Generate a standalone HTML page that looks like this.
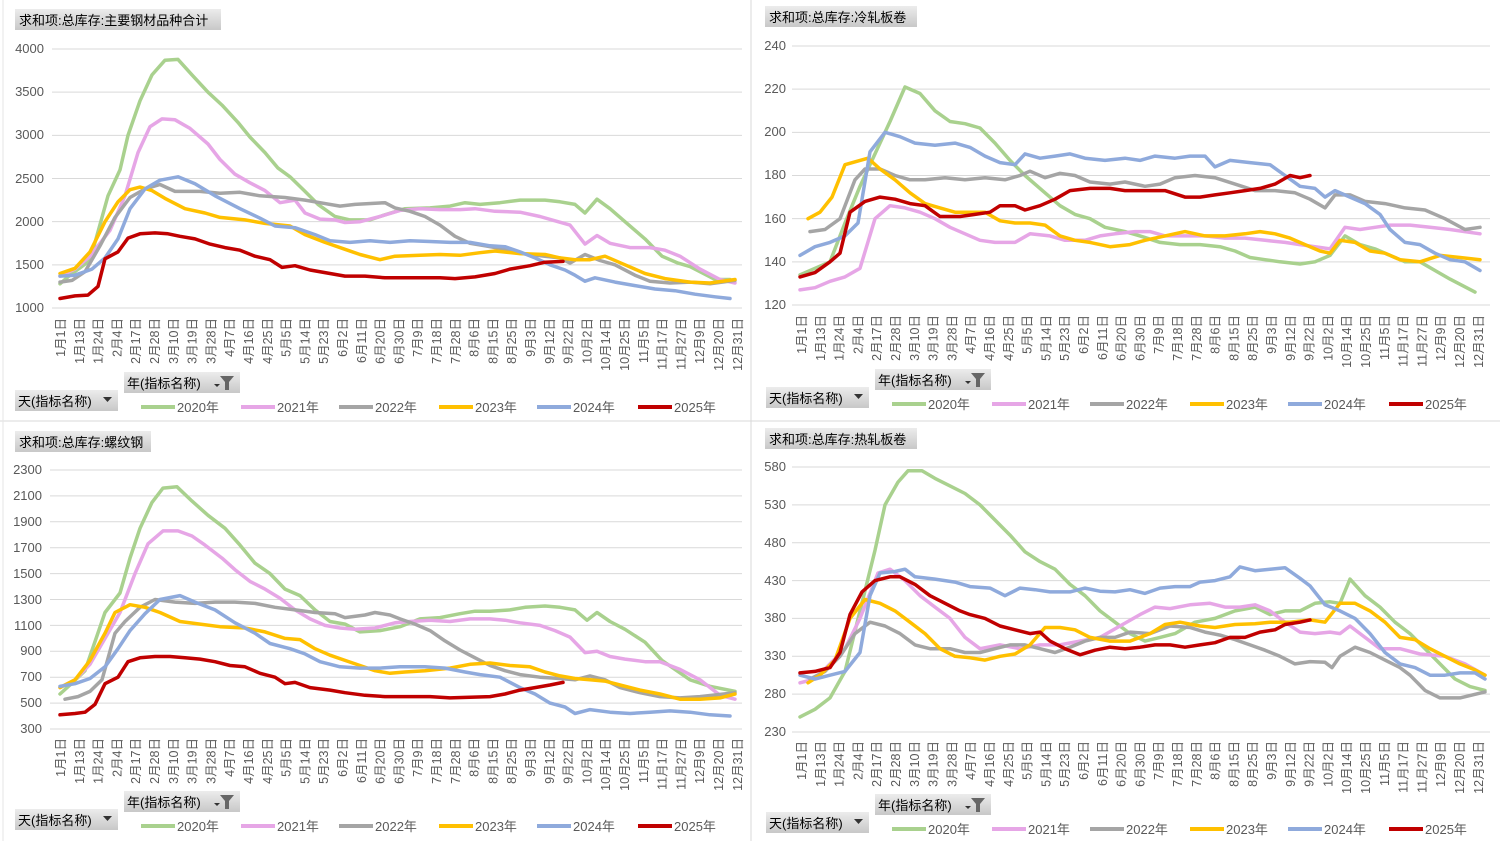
<!DOCTYPE html>
<html><head><meta charset="utf-8"><style>
html,body{margin:0;padding:0;background:#fff;width:1500px;height:841px;overflow:hidden}
svg{display:block;font-family:"Liberation Sans","Noto Sans CJK SC",sans-serif}
.yl{font-size:13px;fill:#595959;text-anchor:end}
.xl text{font-size:12.5px;fill:#595959;text-anchor:end}
.hd{font-size:13px;fill:#000}
.lg{font-size:13px;fill:#595959}
.ct{font-size:13px;fill:#000}
</style></head><body>
<svg id="s" width="1500" height="841" viewBox="0 0 1500 841">
<defs><linearGradient id="gb" x1="0" y1="0" x2="0" y2="1"><stop offset="0" stop-color="#ececec"/><stop offset="1" stop-color="#c8c8c8"/></linearGradient></defs>
<line x1="751" y1="0" x2="751" y2="841" stroke="#d9d9d9"/>
<line x1="0" y1="421" x2="1500" y2="421" stroke="#d9d9d9"/>
<line x1="3" y1="0" x2="3" y2="841" stroke="#e6e6e6"/>
<g id="grid" stroke="#d9d9d9" stroke-width="1"></g>
<g id="lines" fill="none" stroke-width="3.5" stroke-linejoin="round" stroke-linecap="round"></g>

<!-- headers -->
<rect x="15" y="9" width="206" height="21" fill="url(#gb)"/><text class="hd" x="19" y="25">求和项:总库存:主要钢材品种合计</text>
<rect x="765" y="6" width="152" height="21" fill="url(#gb)"/><text class="hd" x="769" y="22">求和项:总库存:冷轧板卷</text>
<rect x="15" y="431" width="136" height="21" fill="url(#gb)"/><text class="hd" x="19" y="447">求和项:总库存:螺纹钢</text>
<rect x="765" y="428" width="152" height="21" fill="url(#gb)"/><text class="hd" x="769" y="444">求和项:总库存:热轧板卷</text>

<!-- y labels -->
<g class="yl">
<text x="44" y="53">4000</text><text x="44" y="96">3500</text><text x="44" y="139">3000</text><text x="44" y="183">2500</text><text x="44" y="226">2000</text><text x="44" y="269">1500</text><text x="44" y="312">1000</text>
<text x="786" y="50">240</text><text x="786" y="93">220</text><text x="786" y="136">200</text><text x="786" y="179">180</text><text x="786" y="223">160</text><text x="786" y="266">140</text><text x="786" y="309">120</text>
<text x="42" y="474">2300</text><text x="42" y="500">2100</text><text x="42" y="526">1900</text><text x="42" y="552">1700</text><text x="42" y="578">1500</text><text x="42" y="604">1300</text><text x="42" y="630">1100</text><text x="42" y="655">900</text><text x="42" y="681">700</text><text x="42" y="707">500</text><text x="42" y="733">300</text>
<text x="786" y="471">580</text><text x="786" y="509">530</text><text x="786" y="547">480</text><text x="786" y="585">430</text><text x="786" y="622">380</text><text x="786" y="660">330</text><text x="786" y="698">280</text><text x="786" y="736">230</text>
</g>

<!-- x labels -->
<g class="xl" transform="translate(0,318)">
<text transform="translate(65,0) rotate(-90)">1月1日</text><text transform="translate(83.8,0) rotate(-90)">1月13日</text><text transform="translate(102.6,0) rotate(-90)">1月24日</text><text transform="translate(121.4,0) rotate(-90)">2月4日</text><text transform="translate(140.2,0) rotate(-90)">2月17日</text><text transform="translate(159,0) rotate(-90)">2月28日</text><text transform="translate(177.8,0) rotate(-90)">3月10日</text><text transform="translate(196.6,0) rotate(-90)">3月19日</text><text transform="translate(215.4,0) rotate(-90)">3月28日</text><text transform="translate(234.2,0) rotate(-90)">4月7日</text><text transform="translate(253,0) rotate(-90)">4月16日</text><text transform="translate(271.8,0) rotate(-90)">4月25日</text><text transform="translate(290.6,0) rotate(-90)">5月5日</text><text transform="translate(309.4,0) rotate(-90)">5月14日</text><text transform="translate(328.2,0) rotate(-90)">5月23日</text><text transform="translate(347,0) rotate(-90)">6月2日</text><text transform="translate(365.8,0) rotate(-90)">6月11日</text><text transform="translate(384.6,0) rotate(-90)">6月20日</text><text transform="translate(403.4,0) rotate(-90)">6月30日</text><text transform="translate(422.2,0) rotate(-90)">7月9日</text><text transform="translate(441,0) rotate(-90)">7月18日</text><text transform="translate(459.8,0) rotate(-90)">7月28日</text><text transform="translate(478.6,0) rotate(-90)">8月6日</text><text transform="translate(497.4,0) rotate(-90)">8月15日</text><text transform="translate(516.2,0) rotate(-90)">8月25日</text><text transform="translate(535,0) rotate(-90)">9月3日</text><text transform="translate(553.8,0) rotate(-90)">9月12日</text><text transform="translate(572.6,0) rotate(-90)">9月22日</text><text transform="translate(591.4,0) rotate(-90)">10月2日</text><text transform="translate(610.2,0) rotate(-90)">10月14日</text><text transform="translate(629,0) rotate(-90)">10月25日</text><text transform="translate(647.8,0) rotate(-90)">11月5日</text><text transform="translate(666.6,0) rotate(-90)">11月17日</text><text transform="translate(685.4,0) rotate(-90)">11月27日</text><text transform="translate(704.2,0) rotate(-90)">12月9日</text><text transform="translate(723,0) rotate(-90)">12月20日</text><text transform="translate(741.8,0) rotate(-90)">12月31日</text>
</g>
<g class="xl" transform="translate(741,315)">
<text transform="translate(65,0) rotate(-90)">1月1日</text><text transform="translate(83.8,0) rotate(-90)">1月13日</text><text transform="translate(102.6,0) rotate(-90)">1月24日</text><text transform="translate(121.4,0) rotate(-90)">2月4日</text><text transform="translate(140.2,0) rotate(-90)">2月17日</text><text transform="translate(159,0) rotate(-90)">2月28日</text><text transform="translate(177.8,0) rotate(-90)">3月10日</text><text transform="translate(196.6,0) rotate(-90)">3月19日</text><text transform="translate(215.4,0) rotate(-90)">3月28日</text><text transform="translate(234.2,0) rotate(-90)">4月7日</text><text transform="translate(253,0) rotate(-90)">4月16日</text><text transform="translate(271.8,0) rotate(-90)">4月25日</text><text transform="translate(290.6,0) rotate(-90)">5月5日</text><text transform="translate(309.4,0) rotate(-90)">5月14日</text><text transform="translate(328.2,0) rotate(-90)">5月23日</text><text transform="translate(347,0) rotate(-90)">6月2日</text><text transform="translate(365.8,0) rotate(-90)">6月11日</text><text transform="translate(384.6,0) rotate(-90)">6月20日</text><text transform="translate(403.4,0) rotate(-90)">6月30日</text><text transform="translate(422.2,0) rotate(-90)">7月9日</text><text transform="translate(441,0) rotate(-90)">7月18日</text><text transform="translate(459.8,0) rotate(-90)">7月28日</text><text transform="translate(478.6,0) rotate(-90)">8月6日</text><text transform="translate(497.4,0) rotate(-90)">8月15日</text><text transform="translate(516.2,0) rotate(-90)">8月25日</text><text transform="translate(535,0) rotate(-90)">9月3日</text><text transform="translate(553.8,0) rotate(-90)">9月12日</text><text transform="translate(572.6,0) rotate(-90)">9月22日</text><text transform="translate(591.4,0) rotate(-90)">10月2日</text><text transform="translate(610.2,0) rotate(-90)">10月14日</text><text transform="translate(629,0) rotate(-90)">10月25日</text><text transform="translate(647.8,0) rotate(-90)">11月5日</text><text transform="translate(666.6,0) rotate(-90)">11月17日</text><text transform="translate(685.4,0) rotate(-90)">11月27日</text><text transform="translate(704.2,0) rotate(-90)">12月9日</text><text transform="translate(723,0) rotate(-90)">12月20日</text><text transform="translate(741.8,0) rotate(-90)">12月31日</text>
</g>
<g class="xl" transform="translate(0,738)">
<text transform="translate(65,0) rotate(-90)">1月1日</text><text transform="translate(83.8,0) rotate(-90)">1月13日</text><text transform="translate(102.6,0) rotate(-90)">1月24日</text><text transform="translate(121.4,0) rotate(-90)">2月4日</text><text transform="translate(140.2,0) rotate(-90)">2月17日</text><text transform="translate(159,0) rotate(-90)">2月28日</text><text transform="translate(177.8,0) rotate(-90)">3月10日</text><text transform="translate(196.6,0) rotate(-90)">3月19日</text><text transform="translate(215.4,0) rotate(-90)">3月28日</text><text transform="translate(234.2,0) rotate(-90)">4月7日</text><text transform="translate(253,0) rotate(-90)">4月16日</text><text transform="translate(271.8,0) rotate(-90)">4月25日</text><text transform="translate(290.6,0) rotate(-90)">5月5日</text><text transform="translate(309.4,0) rotate(-90)">5月14日</text><text transform="translate(328.2,0) rotate(-90)">5月23日</text><text transform="translate(347,0) rotate(-90)">6月2日</text><text transform="translate(365.8,0) rotate(-90)">6月11日</text><text transform="translate(384.6,0) rotate(-90)">6月20日</text><text transform="translate(403.4,0) rotate(-90)">6月30日</text><text transform="translate(422.2,0) rotate(-90)">7月9日</text><text transform="translate(441,0) rotate(-90)">7月18日</text><text transform="translate(459.8,0) rotate(-90)">7月28日</text><text transform="translate(478.6,0) rotate(-90)">8月6日</text><text transform="translate(497.4,0) rotate(-90)">8月15日</text><text transform="translate(516.2,0) rotate(-90)">8月25日</text><text transform="translate(535,0) rotate(-90)">9月3日</text><text transform="translate(553.8,0) rotate(-90)">9月12日</text><text transform="translate(572.6,0) rotate(-90)">9月22日</text><text transform="translate(591.4,0) rotate(-90)">10月2日</text><text transform="translate(610.2,0) rotate(-90)">10月14日</text><text transform="translate(629,0) rotate(-90)">10月25日</text><text transform="translate(647.8,0) rotate(-90)">11月5日</text><text transform="translate(666.6,0) rotate(-90)">11月17日</text><text transform="translate(685.4,0) rotate(-90)">11月27日</text><text transform="translate(704.2,0) rotate(-90)">12月9日</text><text transform="translate(723,0) rotate(-90)">12月20日</text><text transform="translate(741.8,0) rotate(-90)">12月31日</text>
</g>
<g class="xl" transform="translate(741,741)">
<text transform="translate(65,0) rotate(-90)">1月1日</text><text transform="translate(83.8,0) rotate(-90)">1月13日</text><text transform="translate(102.6,0) rotate(-90)">1月24日</text><text transform="translate(121.4,0) rotate(-90)">2月4日</text><text transform="translate(140.2,0) rotate(-90)">2月17日</text><text transform="translate(159,0) rotate(-90)">2月28日</text><text transform="translate(177.8,0) rotate(-90)">3月10日</text><text transform="translate(196.6,0) rotate(-90)">3月19日</text><text transform="translate(215.4,0) rotate(-90)">3月28日</text><text transform="translate(234.2,0) rotate(-90)">4月7日</text><text transform="translate(253,0) rotate(-90)">4月16日</text><text transform="translate(271.8,0) rotate(-90)">4月25日</text><text transform="translate(290.6,0) rotate(-90)">5月5日</text><text transform="translate(309.4,0) rotate(-90)">5月14日</text><text transform="translate(328.2,0) rotate(-90)">5月23日</text><text transform="translate(347,0) rotate(-90)">6月2日</text><text transform="translate(365.8,0) rotate(-90)">6月11日</text><text transform="translate(384.6,0) rotate(-90)">6月20日</text><text transform="translate(403.4,0) rotate(-90)">6月30日</text><text transform="translate(422.2,0) rotate(-90)">7月9日</text><text transform="translate(441,0) rotate(-90)">7月18日</text><text transform="translate(459.8,0) rotate(-90)">7月28日</text><text transform="translate(478.6,0) rotate(-90)">8月6日</text><text transform="translate(497.4,0) rotate(-90)">8月15日</text><text transform="translate(516.2,0) rotate(-90)">8月25日</text><text transform="translate(535,0) rotate(-90)">9月3日</text><text transform="translate(553.8,0) rotate(-90)">9月12日</text><text transform="translate(572.6,0) rotate(-90)">9月22日</text><text transform="translate(591.4,0) rotate(-90)">10月2日</text><text transform="translate(610.2,0) rotate(-90)">10月14日</text><text transform="translate(629,0) rotate(-90)">10月25日</text><text transform="translate(647.8,0) rotate(-90)">11月5日</text><text transform="translate(666.6,0) rotate(-90)">11月17日</text><text transform="translate(685.4,0) rotate(-90)">11月27日</text><text transform="translate(704.2,0) rotate(-90)">12月9日</text><text transform="translate(723,0) rotate(-90)">12月20日</text><text transform="translate(741.8,0) rotate(-90)">12月31日</text>
</g>

<!-- controls + legends -->
<g transform="translate(0,0)">
<rect x="124" y="372" width="116" height="21" fill="url(#gb)"/><text class="ct" x="127" y="388">年(指标名称)</text><path d="M214 384h6l-3 3z" fill="#333"/><path d="M220 376h14l-5 6v8h-4v-8z" fill="#666"/>
<rect x="15" y="390" width="103" height="21" fill="url(#gb)"/><text class="ct" x="18" y="406">天(指标名称)</text><path d="M103 397h9l-4.5 5z" fill="#333"/>
<g class="lg"><line x1="141" y1="407" x2="175" y2="407" stroke="#a9d18e" stroke-width="4"/><text x="177" y="412">2020年</text>
<line x1="241" y1="407" x2="275" y2="407" stroke="#e6a6e6" stroke-width="4"/><text x="277" y="412">2021年</text>
<line x1="339" y1="407" x2="373" y2="407" stroke="#a5a5a5" stroke-width="4"/><text x="375" y="412">2022年</text>
<line x1="439" y1="407" x2="473" y2="407" stroke="#ffc000" stroke-width="4"/><text x="475" y="412">2023年</text>
<line x1="537" y1="407" x2="571" y2="407" stroke="#8faadc" stroke-width="4"/><text x="573" y="412">2024年</text>
<line x1="638" y1="407" x2="672" y2="407" stroke="#c00000" stroke-width="4"/><text x="674" y="412">2025年</text></g>
</g>
<g transform="translate(751,-3)">
<rect x="124" y="372" width="116" height="21" fill="url(#gb)"/><text class="ct" x="127" y="388">年(指标名称)</text><path d="M214 384h6l-3 3z" fill="#333"/><path d="M220 376h14l-5 6v8h-4v-8z" fill="#666"/>
<rect x="15" y="390" width="103" height="21" fill="url(#gb)"/><text class="ct" x="18" y="406">天(指标名称)</text><path d="M103 397h9l-4.5 5z" fill="#333"/>
<g class="lg"><line x1="141" y1="407" x2="175" y2="407" stroke="#a9d18e" stroke-width="4"/><text x="177" y="412">2020年</text>
<line x1="241" y1="407" x2="275" y2="407" stroke="#e6a6e6" stroke-width="4"/><text x="277" y="412">2021年</text>
<line x1="339" y1="407" x2="373" y2="407" stroke="#a5a5a5" stroke-width="4"/><text x="375" y="412">2022年</text>
<line x1="439" y1="407" x2="473" y2="407" stroke="#ffc000" stroke-width="4"/><text x="475" y="412">2023年</text>
<line x1="537" y1="407" x2="571" y2="407" stroke="#8faadc" stroke-width="4"/><text x="573" y="412">2024年</text>
<line x1="638" y1="407" x2="672" y2="407" stroke="#c00000" stroke-width="4"/><text x="674" y="412">2025年</text></g>
</g>
<g transform="translate(0,419)">
<rect x="124" y="372" width="116" height="21" fill="url(#gb)"/><text class="ct" x="127" y="388">年(指标名称)</text><path d="M214 384h6l-3 3z" fill="#333"/><path d="M220 376h14l-5 6v8h-4v-8z" fill="#666"/>
<rect x="15" y="390" width="103" height="21" fill="url(#gb)"/><text class="ct" x="18" y="406">天(指标名称)</text><path d="M103 397h9l-4.5 5z" fill="#333"/>
<g class="lg"><line x1="141" y1="407" x2="175" y2="407" stroke="#a9d18e" stroke-width="4"/><text x="177" y="412">2020年</text>
<line x1="241" y1="407" x2="275" y2="407" stroke="#e6a6e6" stroke-width="4"/><text x="277" y="412">2021年</text>
<line x1="339" y1="407" x2="373" y2="407" stroke="#a5a5a5" stroke-width="4"/><text x="375" y="412">2022年</text>
<line x1="439" y1="407" x2="473" y2="407" stroke="#ffc000" stroke-width="4"/><text x="475" y="412">2023年</text>
<line x1="537" y1="407" x2="571" y2="407" stroke="#8faadc" stroke-width="4"/><text x="573" y="412">2024年</text>
<line x1="638" y1="407" x2="672" y2="407" stroke="#c00000" stroke-width="4"/><text x="674" y="412">2025年</text></g>
</g>
<g transform="translate(751,422)">
<rect x="124" y="372" width="116" height="21" fill="url(#gb)"/><text class="ct" x="127" y="388">年(指标名称)</text><path d="M214 384h6l-3 3z" fill="#333"/><path d="M220 376h14l-5 6v8h-4v-8z" fill="#666"/>
<rect x="15" y="390" width="103" height="21" fill="url(#gb)"/><text class="ct" x="18" y="406">天(指标名称)</text><path d="M103 397h9l-4.5 5z" fill="#333"/>
<g class="lg"><line x1="141" y1="407" x2="175" y2="407" stroke="#a9d18e" stroke-width="4"/><text x="177" y="412">2020年</text>
<line x1="241" y1="407" x2="275" y2="407" stroke="#e6a6e6" stroke-width="4"/><text x="277" y="412">2021年</text>
<line x1="339" y1="407" x2="373" y2="407" stroke="#a5a5a5" stroke-width="4"/><text x="375" y="412">2022年</text>
<line x1="439" y1="407" x2="473" y2="407" stroke="#ffc000" stroke-width="4"/><text x="475" y="412">2023年</text>
<line x1="537" y1="407" x2="571" y2="407" stroke="#8faadc" stroke-width="4"/><text x="573" y="412">2024年</text>
<line x1="638" y1="407" x2="672" y2="407" stroke="#c00000" stroke-width="4"/><text x="674" y="412">2025年</text></g>
</g>
</svg>
<script>
var NS="http://www.w3.org/2000/svg";
var C=["#a9d18e","#e6a6e6","#a5a5a5","#ffc000","#8faadc","#c00000"];
var P=[
{x0:52,x1:742,top:49,bot:308,vmax:4000,vmin:1000,step:500,s:[
[[60,1280],[70,1380],[90,1550],[108,2300],[120,2600],[128,3000],[140,3400],[152,3700],[165,3870],[178,3880],[192,3700],[208,3500],[222,3350],[238,3150],[250,2980],[265,2800],[278,2620],[290,2520],[305,2350],[318,2200],[335,2060],[350,2020],[370,2020],[385,2080],[405,2150],[430,2160],[450,2180],[465,2220],[480,2200],[500,2220],[520,2250],[545,2250],[560,2230],[575,2200],[585,2100],[597,2260],[610,2150],[625,2000],[645,1800],[662,1600],[678,1520],[690,1480],[700,1420],[715,1330],[730,1330]],
[[60,1370],[75,1450],[90,1600],[110,1900],[125,2300],[138,2800],[150,3100],[162,3190],[175,3180],[190,3080],[208,2900],[220,2720],[235,2550],[250,2450],[265,2360],[280,2220],[295,2250],[305,2100],[320,2030],[335,2020],[345,1990],[360,2000],[380,2060],[400,2130],[420,2150],[440,2140],[460,2140],[475,2150],[495,2120],[520,2110],[540,2060],[555,2010],[570,1960],[585,1740],[597,1840],[610,1750],[630,1700],[650,1700],[665,1670],[680,1600],[700,1450],[720,1330],[735,1290]],
[[60,1300],[72,1320],[85,1420],[100,1720],[115,2050],[130,2280],[145,2380],[160,2430],[175,2350],[200,2350],[220,2330],[240,2340],[260,2300],[285,2280],[305,2250],[320,2220],[340,2180],[355,2200],[385,2220],[395,2160],[410,2120],[425,2060],[440,1960],[455,1830],[470,1750],[485,1720],[500,1690],[515,1640],[530,1620],[545,1600],[560,1580],[570,1520],[585,1620],[600,1550],[615,1500],[635,1380],[650,1310],[670,1290],[690,1300],[710,1280],[735,1320]],
[[60,1400],[75,1460],[90,1650],[105,2000],[118,2230],[130,2370],[140,2400],[152,2360],[165,2270],[185,2150],[205,2100],[220,2050],[245,2020],[265,1980],[290,1950],[305,1850],[325,1760],[345,1680],[360,1620],[380,1560],[395,1600],[420,1610],[440,1620],[460,1610],[480,1640],[495,1660],[520,1630],[545,1620],[560,1580],[575,1560],[590,1560],[605,1600],[625,1500],[645,1400],[665,1340],[690,1300],[710,1290],[735,1330]],
[[60,1370],[75,1380],[92,1450],[105,1580],[118,1800],[130,2150],[145,2380],[160,2480],[178,2520],[195,2440],[215,2300],[240,2150],[260,2040],[275,1950],[295,1930],[315,1850],[330,1780],[350,1760],[370,1780],[390,1760],[410,1780],[430,1770],[450,1760],[470,1760],[490,1720],[505,1710],[520,1650],[535,1580],[550,1500],[565,1440],[575,1380],[585,1310],[595,1350],[615,1300],[635,1260],[655,1220],[675,1200],[695,1160],[715,1130],[730,1110]],
[[60,1110],[75,1140],[88,1150],[98,1250],[105,1570],[118,1650],[128,1810],[140,1860],[155,1870],[168,1860],[180,1830],[195,1800],[210,1740],[225,1700],[240,1670],[255,1600],[270,1560],[282,1470],[295,1490],[310,1440],[330,1400],[345,1370],[365,1370],[385,1350],[400,1350],[420,1350],[440,1350],[455,1340],[475,1360],[495,1400],[510,1450],[530,1490],[545,1530],[563,1540]]]},
{x0:792,x1:1490,top:46,bot:305,vmax:240,vmin:120,step:20,s:[
[[800,134],[815,137],[830,140],[845,158],[860,175],[875,190],[890,205],[905,221],[920,218],[935,210],[950,205],[965,204],[980,202],[995,195],[1010,187],[1025,180],[1045,172],[1060,166],[1075,162],[1090,160],[1105,156],[1125,154],[1140,152],[1160,149],[1180,148],[1200,148],[1220,147],[1235,145],[1250,142],[1265,141],[1280,140],[1300,139],[1315,140],[1330,143],[1345,152],[1360,148],[1375,146],[1390,143],[1405,140],[1420,140],[1435,136],[1450,132],[1475,126]],
[[800,127],[815,128],[830,131],[845,133],[860,137],[875,160],[890,166],[905,165],[920,163],[935,160],[950,156],[965,153],[980,150],[995,149],[1015,149],[1030,153],[1050,152],[1065,150],[1085,150],[1100,152],[1115,153],[1135,154],[1150,154],[1165,152],[1185,152],[1205,152],[1225,151],[1245,151],[1265,150],[1285,149],[1300,148],[1315,147],[1330,146],[1345,156],[1360,155],[1375,156],[1390,157],[1410,157],[1430,156],[1450,155],[1480,153]],
[[810,154],[825,155],[840,160],[855,178],[865,183],[880,183],[895,180],[910,178],[925,178],[945,179],[965,178],[985,179],[1005,178],[1020,180],[1030,182],[1045,179],[1060,181],[1075,180],[1090,177],[1110,176],[1125,177],[1145,175],[1160,176],[1175,179],[1195,180],[1215,179],[1235,176],[1255,173],[1275,173],[1295,172],[1310,169],[1325,165],[1335,171],[1350,171],[1365,168],[1385,167],[1405,165],[1425,164],[1445,160],[1465,155],[1480,156]],
[[808,160],[820,163],[832,170],[845,185],[860,187],[868,188],[880,183],[895,178],[910,172],[925,167],[940,165],[955,163],[970,163],[985,163],[1000,159],[1015,158],[1030,158],[1045,157],[1060,152],[1075,150],[1090,149],[1110,147],[1130,148],[1145,150],[1165,152],[1185,154],[1205,152],[1225,152],[1245,153],[1260,154],[1275,153],[1290,151],[1305,148],[1320,145],[1330,144],[1340,150],[1355,149],[1370,145],[1385,144],[1400,141],[1420,140],[1440,143],[1460,142],[1480,141]],
[[800,143],[815,147],[830,149],[845,152],[858,158],[870,191],[885,200],[900,198],[915,195],[935,194],[955,195],[970,193],[985,189],[1000,186],[1015,185],[1025,190],[1040,188],[1055,189],[1070,190],[1085,188],[1105,187],[1125,188],[1140,187],[1155,189],[1175,188],[1190,189],[1205,189],[1215,184],[1230,187],[1250,186],[1270,185],[1285,180],[1300,175],[1315,174],[1325,170],[1335,173],[1350,170],[1365,167],[1380,162],[1390,155],[1405,149],[1420,148],[1435,144],[1450,141],[1465,140],[1480,136]],
[[800,133],[815,135],[830,140],[840,144],[850,163],[865,168],[880,170],[895,169],[910,167],[925,166],[940,161],[960,161],[975,162],[990,163],[1000,166],[1015,166],[1025,164],[1040,166],[1055,169],[1070,173],[1090,174],[1110,174],[1125,173],[1145,173],[1165,173],[1185,170],[1200,170],[1215,171],[1230,172],[1245,173],[1260,174],[1275,176],[1290,180],[1300,179],[1310,180]]]},
{x0:50,x1:742,top:470,bot:729,vmax:2300,vmin:300,step:200,s:[
[[60,570],[70,640],[85,750],[105,1200],[120,1350],[130,1620],[140,1850],[152,2050],[163,2160],[177,2170],[192,2060],[208,1950],[225,1850],[240,1720],[255,1580],[270,1500],[285,1380],[300,1330],[315,1220],[330,1130],[345,1110],[360,1050],[380,1060],[400,1090],[420,1150],[440,1160],[460,1190],[475,1210],[490,1210],[510,1220],[525,1240],[545,1250],[560,1240],[575,1220],[587,1140],[597,1200],[610,1130],[625,1070],[645,970],[662,830],[675,760],[690,680],[710,630],[735,590]],
[[60,620],[75,680],[90,800],[105,1000],[120,1200],[135,1500],[148,1730],[163,1830],[178,1830],[192,1790],[205,1720],[222,1620],[235,1530],[250,1440],[265,1380],[280,1310],[295,1220],[310,1150],[325,1100],[340,1080],[355,1070],[375,1080],[395,1120],[410,1130],[430,1140],[450,1130],[470,1150],[490,1150],[505,1140],[520,1120],[540,1100],[555,1060],[570,1010],[585,890],[597,900],[610,860],[625,840],[645,820],[660,820],[680,760],[700,680],[720,560],[735,530]],
[[65,530],[78,550],[90,590],[102,680],[115,1040],[125,1130],[140,1240],[155,1300],[175,1280],[195,1270],[215,1280],[235,1280],[255,1270],[275,1240],[295,1220],[315,1200],[335,1190],[345,1160],[365,1180],[375,1200],[390,1180],[400,1150],[415,1110],[430,1060],[445,980],[460,910],[475,850],[490,790],[505,750],[520,720],[540,700],[560,690],[575,680],[590,710],[605,680],[620,620],[640,580],[660,550],[680,540],[700,550],[735,580]],
[[60,620],[75,680],[90,830],[105,1040],[115,1200],[130,1260],[145,1240],[160,1200],[180,1130],[200,1110],[220,1090],[245,1080],[265,1050],[285,1000],[300,990],[315,920],[330,870],[345,830],[360,790],[375,750],[390,730],[405,740],[425,750],[450,770],[470,800],[490,810],[510,790],[530,780],[545,740],[560,710],[575,690],[590,680],[605,670],[620,640],[640,600],[660,570],[680,530],[700,530],[720,540],[735,570]],
[[60,630],[75,650],[90,690],[105,780],[118,920],[130,1060],[145,1190],[160,1300],[180,1330],[195,1280],[215,1220],[235,1120],[255,1040],[270,960],[290,920],[305,880],[320,820],[340,780],[360,770],[380,770],[400,780],[425,780],[445,770],[465,740],[480,720],[500,700],[520,620],[535,570],[550,500],[565,470],[575,420],[590,450],[610,430],[630,420],[650,430],[670,440],[690,430],[710,410],[730,400]],
[[60,410],[75,420],[85,430],[95,490],[105,650],[118,700],[128,820],[140,850],[155,860],[170,860],[185,850],[200,840],[215,820],[230,790],[245,780],[260,730],[275,700],[285,650],[295,660],[310,620],[330,600],[345,580],[365,560],[385,550],[405,550],[430,550],[450,540],[470,545],[490,550],[505,570],[520,600],[535,620],[550,640],[563,660]]]},
{x0:792,x1:1490,top:467,bot:732,vmax:580,vmin:230,step:50,s:[
[[800,250],[815,260],[830,275],[845,310],[860,390],[875,470],[885,530],[898,560],[908,575],[922,575],[935,565],[950,555],[965,545],[980,530],[995,510],[1010,490],[1025,468],[1040,455],[1055,445],[1070,425],[1085,410],[1100,390],[1115,375],[1130,360],[1145,350],[1160,355],[1175,360],[1195,375],[1215,380],[1235,390],[1255,395],[1270,385],[1285,390],[1300,390],[1315,400],[1330,402],[1340,400],[1350,432],[1365,410],[1380,395],[1395,375],[1410,360],[1425,340],[1440,320],[1455,300],[1470,290],[1485,285]],
[[800,295],[815,300],[830,320],[845,340],[860,380],[878,440],[890,445],[905,430],[920,410],[935,395],[950,380],[965,355],[980,340],[1000,345],[1020,340],[1040,345],[1060,345],[1080,350],[1100,355],[1120,370],[1140,385],[1155,395],[1170,393],[1190,398],[1210,400],[1225,395],[1240,395],[1255,398],[1270,390],[1285,375],[1300,362],[1315,360],[1330,362],[1340,360],[1350,370],[1365,355],[1380,340],[1400,340],[1420,333],[1445,330],[1465,320],[1485,305]],
[[810,300],[825,310],[840,330],[855,360],[870,375],[885,370],[900,360],[915,345],[930,340],[950,340],[965,335],[980,335],[995,340],[1010,345],[1025,345],[1040,340],[1055,335],[1070,342],[1085,350],[1100,355],[1115,355],[1130,362],[1150,360],[1170,370],[1190,368],[1205,362],[1220,358],[1235,352],[1250,345],[1265,338],[1280,330],[1295,320],[1310,323],[1325,322],[1332,315],[1340,330],[1355,342],[1370,335],[1385,325],[1400,315],[1410,305],[1425,285],[1440,275],[1460,275],[1485,283]],
[[808,295],[820,305],[835,325],[850,380],[865,405],[880,400],[895,390],[910,375],[925,360],[940,340],[955,330],[970,328],[985,325],[1000,330],[1015,333],[1030,345],[1045,368],[1060,368],[1075,365],[1090,355],[1110,350],[1130,350],[1150,360],[1165,372],[1180,375],[1200,370],[1215,368],[1235,372],[1255,373],[1270,375],[1290,375],[1310,378],[1325,375],[1340,400],[1355,400],[1370,390],[1385,375],[1400,355],[1415,352],[1430,340],[1445,330],[1460,320],[1475,312],[1485,305]],
[[800,305],[815,300],[830,305],[845,310],[860,335],[870,410],[880,440],[895,442],[905,445],[915,435],[935,432],[955,428],[970,422],[990,420],[1005,410],[1020,420],[1035,418],[1050,415],[1070,415],[1085,420],[1100,416],[1115,415],[1130,418],[1145,413],[1160,420],[1175,422],[1190,422],[1200,428],[1215,430],[1230,435],[1240,448],[1255,443],[1270,445],[1285,447],[1300,433],[1310,423],[1325,398],[1340,390],[1355,380],[1370,360],[1385,335],[1400,320],[1415,315],[1430,305],[1445,305],[1460,308],[1475,308],[1485,300]],
[[800,308],[815,310],[830,315],[840,335],[850,385],[862,415],[875,430],[890,435],[900,435],[915,425],[930,410],[945,400],[960,390],[970,385],[985,380],[1000,370],[1015,365],[1030,360],[1040,362],[1050,350],[1065,340],[1080,332],[1095,338],[1110,342],[1125,340],[1140,342],[1155,345],[1170,345],[1185,342],[1200,345],[1215,348],[1230,355],[1245,355],[1260,362],[1275,365],[1285,372],[1300,375],[1310,378]]]}
];
var G=document.getElementById("grid"),L=document.getElementById("lines");
P.forEach(function(p){
 var k=(p.bot-p.top)/(p.vmax-p.vmin);
 for(var v=p.vmin;v<=p.vmax+1e-9;v+=p.step){var y=p.bot-(v-p.vmin)*k;var l=document.createElementNS(NS,"line");l.setAttribute("x1",p.x0);l.setAttribute("x2",p.x1);l.setAttribute("y1",y);l.setAttribute("y2",y);G.appendChild(l);}
 p.s.forEach(function(s,i){var d=s.map(function(q,j){return (j?"L":"M")+q[0]+" "+(p.bot-(q[1]-p.vmin)*k).toFixed(1)}).join("");
  var e=document.createElementNS(NS,"path");e.setAttribute("d",d);e.setAttribute("stroke",C[i]);L.appendChild(e);});
});
</script>
</body></html>
